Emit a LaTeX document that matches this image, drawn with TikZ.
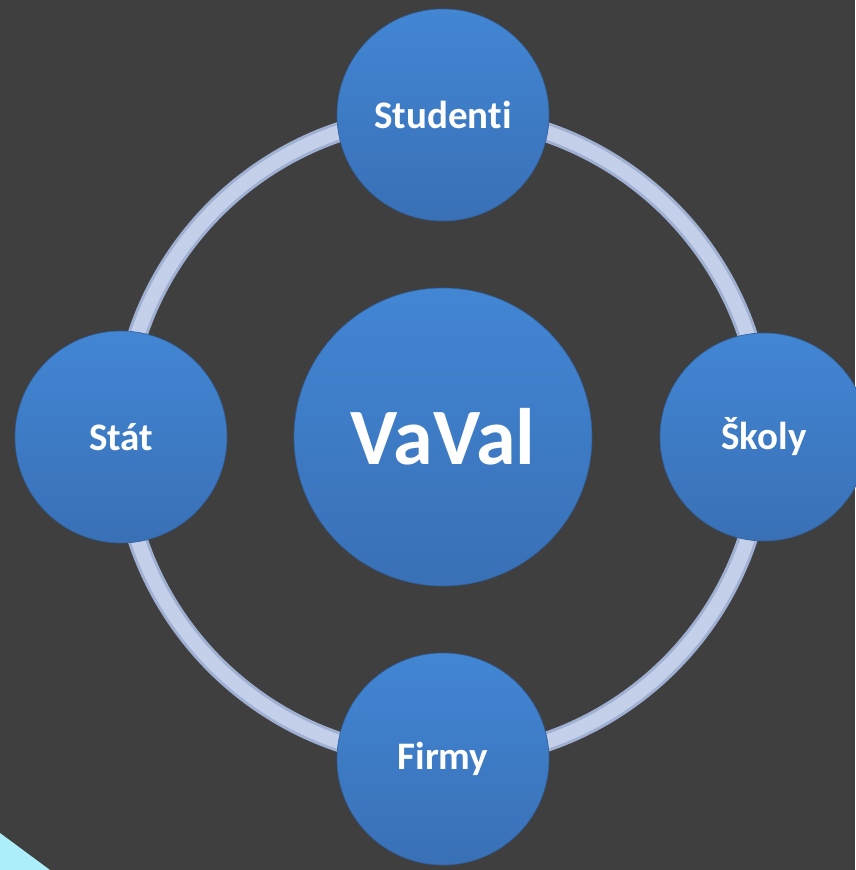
\documentclass[tikz,border=0pt]{standalone}
\usepackage{fontspec}
\setmainfont[Ligatures=NoCommon]{Carlito}
\usetikzlibrary{backgrounds}
\definecolor{slidebg}{RGB}{63,63,63}
\definecolor{ballhi}{RGB}{66,134,212}
\definecolor{balllo}{RGB}{57,112,182}
\definecolor{ringedge}{RGB}{160,176,210}
\definecolor{ringmid}{RGB}{196,208,234}
\definecolor{cornercyan}{RGB}{172,238,250}
\tikzset{
  ball/.style={circle, inner sep=0pt, minimum size=212pt,
    top color=ballhi, bottom color=balllo, draw=balllo!85!black, line width=0.6pt,
    text=white, font=\bfseries\fontsize{39}{39}\selectfont},
  bigball/.style={ball, minimum size=298pt, font=\bfseries\fontsize{80}{80}\selectfont},
  ring/.style={line width=20pt, draw=ringedge},
  ringcore/.style={line width=14pt, draw=ringmid}
}
\begin{document}
\begin{tikzpicture}[x=1pt,y=1pt]
      \useasboundingbox (-443,-433) rectangle (412,437);
      \draw
        (0,0) node[bigball] (vaval){VaVal}
        (90:322) node[ball] (studenti){Studenti}
        (0:321) node[ball, minimum size=208pt] (skoly){Školy}
        (270:322) node[ball] (firmy){Firmy}
        (180:322) node[ball] (stat){Stát};
      \begin{pgfonlayer}{background}
        \fill[slidebg] (-443,-433) rectangle (412,437);
        \fill[cornercyan] (-443,-396) -- (-393,-433) -- (-443,-433) -- cycle;
        \begin{scope}[ring]
          \draw (studenti.center) to[bend left=45] (skoly.center);
          \draw (skoly.center) to[bend left=45] (firmy.center);
          \draw (firmy.center) to[bend left=45] (stat.center);
          \draw (stat.center) to[bend left=45] (studenti.center);
        \end{scope}
        \begin{scope}[ringcore]
          \draw (studenti.center) to[bend left=45] (skoly.center);
          \draw (skoly.center) to[bend left=45] (firmy.center);
          \draw (firmy.center) to[bend left=45] (stat.center);
          \draw (stat.center) to[bend left=45] (studenti.center);
        \end{scope}
      \end{pgfonlayer}
    \end{tikzpicture}
\end{document}
